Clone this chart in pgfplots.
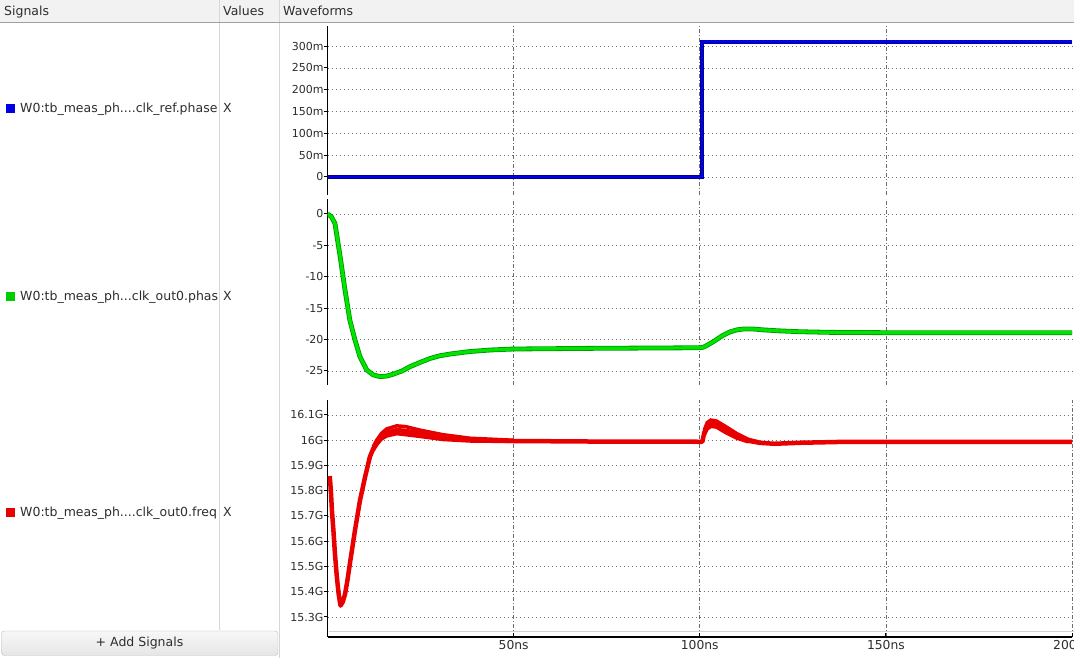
\documentclass[border=0pt]{standalone}
\usepackage{fontspec}
\setmainfont{DejaVu Sans}
\usepackage{pgfplots}
\pgfplotsset{compat=1.18}

\definecolor{wblue}{RGB}{0,0,225}
\definecolor{wblued}{RGB}{0,0,150}
\definecolor{wgreen}{RGB}{0,228,0}
\definecolor{wgreend}{RGB}{0,150,0}
\definecolor{wred}{RGB}{232,0,0}
\definecolor{gridc}{RGB}{110,110,110}
\definecolor{txt}{RGB}{45,45,45}
\definecolor{hdr}{RGB}{242,242,242}
\definecolor{hdrline}{RGB}{160,160,160}
\definecolor{sep}{RGB}{215,215,215}

\pgfplotstableread{
t v
0 0
100.6 0
100.6 310
200 310
}\bluedata

\pgfplotstableread{
t v
0 0
1 -0.4
2 -1.5
3.4 -6.8
4.7 -12.1
6.0 -16.9
7.4 -20.1
8.7 -22.7
10.5 -24.8
12.2 -25.6
14.1 -25.9
16 -25.8
17.7 -25.5
20 -25.0
22.2 -24.3
25 -23.6
27.6 -23.0
30 -22.6
32.9 -22.3
38.3 -21.9
44 -21.65
50 -21.5
60 -21.45
70 -21.4
85 -21.35
100 -21.3
101 -21.2
102 -20.9
104 -20.2
106 -19.4
108 -18.8
110 -18.45
112 -18.3
114 -18.3
117 -18.45
121 -18.6
127 -18.75
135 -18.85
150 -18.9
200 -18.9
}\greendata

\pgfplotstableread{
t v
0.6 15.858
0.9 15.80
1.2 15.72
1.6 15.64
2.0 15.55
2.5 15.46
3.0 15.39
3.5 15.345
4.1 15.36
4.7 15.39
5.3 15.44
6.0 15.51
7.4 15.645
8.7 15.76
10.1 15.855
11.4 15.935
12.3 15.967
13.2 15.99
14.5 16.015
15.9 16.03
18.6 16.04
21 16.037
24.9 16.027
31 16.012
38.3 16.002
50 15.997
70 15.995
100 15.994
100.7 15.994
101.2 16.03
102 16.055
103 16.065
104.5 16.062
107 16.04
110 16.015
113 15.998
116 15.99
120 15.986
127 15.99
140 15.994
200 15.994
}\reddata

\pgfplotstableread{
t v
12.3 15.975
13.2 16.0
14.5 16.027
15.9 16.045
18.6 16.057
21 16.054
24.9 16.04
31 16.022
38.3 16.008
50 16.0
}\redupA

\pgfplotstableread{
t v
12.3 15.96
13.2 15.982
14.5 16.005
15.9 16.017
18.6 16.026
21 16.022
24.9 16.015
31 16.003
38.3 15.997
50 15.995
}\redloA

\pgfplotstableread{
t v
101.2 16.04
102 16.07
103 16.08
104.5 16.076
107 16.054
110 16.026
113 16.004
116 15.993
}\redupB

\pgfplotstableread{
t v
101.2 16.02
102 16.045
103 16.055
104.5 16.052
107 16.03
110 16.008
113 15.994
}\redloB

\pgfplotsset{
  lane/.style={
    scale only axis, width=744.5bp, xmin=0, xmax=200, anchor=south west,
    axis lines=left, axis line style={-, black, line width=1.6bp},
    xmajorgrids, ymajorgrids,
    x grid style={gridc, line width=0.7bp, dash pattern=on 4bp off 2bp on 1bp off 2bp},
    y grid style={gridc, line width=0.7bp, dash pattern=on 1bp off 3bp},
    tick align=inside,
    major tick length=4bp,
    ytick style={black, line width=1bp, xshift=-4bp},
    xtick style={black, line width=1bp},
    yticklabel style={font=\fontsize{11bp}{13bp}\selectfont, text=txt, anchor=east, xshift=-0.5bp},
    xticklabel style={font=\fontsize{12.3bp}{14bp}\selectfont, text=txt, anchor=north},
  },
  upperlane/.style={
    lane,
    xtick={50,100,150}, xticklabels={},
    x axis line style={draw=none},
    xtick style={draw=none},
  }
}

\begin{document}
\begin{tikzpicture}[x=1bp,y=1bp]
\path[use as bounding box] (0,0) rectangle (1074,658);
\clip (0,0) rectangle (1074,658);
\fill[white] (0,0) rectangle (1074,658);

% header
\fill[hdr] (0,636) rectangle (1074,658);
\draw[hdrline, line width=1bp] (0,635.5) -- (1074,635.5);
\draw[sep, line width=1bp] (219.5,636) -- (219.5,658);
\draw[sep, line width=1bp] (279.5,636) -- (279.5,658);
\node[anchor=base west, text=txt, inner sep=0pt, font=\fontsize{12.5bp}{14bp}\selectfont] at (4,642) {Signals};
\node[anchor=base west, text=txt, inner sep=0pt, font=\fontsize{12.5bp}{14bp}\selectfont] at (223,642) {Values};
\node[anchor=base west, text=txt, inner sep=0pt, font=\fontsize{12.5bp}{14bp}\selectfont] at (283,642) {Waveforms};

% panel separators
\draw[sep, line width=1bp] (219.5,28) -- (219.5,635);
\draw[sep, line width=1bp] (279.5,0) -- (279.5,635);

% signal rows
\fill[wblue] (6,545) rectangle (15,554);
\fill[wgreen!90!black] (6,357) rectangle (15,366);
\fill[wred] (6,141) rectangle (15,150);
\begin{scope}
\clip (0,0) rectangle (219,635);
\node[anchor=base west, text=txt, inner sep=0pt, font=\fontsize{12.5bp}{14bp}\selectfont] at (20,545.5) {W0:tb\_meas\_ph....clk\_ref.phase};
\node[anchor=base west, text=txt, inner sep=0pt, font=\fontsize{12.5bp}{14bp}\selectfont] at (20,357.5) {W0:tb\_meas\_ph...clk\_out0.phas};
\node[anchor=base west, text=txt, inner sep=0pt, font=\fontsize{12.5bp}{14bp}\selectfont] at (20,141.5) {W0:tb\_meas\_ph....clk\_out0.freq};
\end{scope}
\node[anchor=base west, text=txt, inner sep=0pt, font=\fontsize{12.5bp}{14bp}\selectfont] at (223,545.5) {X};
\node[anchor=base west, text=txt, inner sep=0pt, font=\fontsize{12.5bp}{14bp}\selectfont] at (223,357.5) {X};
\node[anchor=base west, text=txt, inner sep=0pt, font=\fontsize{12.5bp}{14bp}\selectfont] at (223,141.5) {X};

% button
\draw[rounded corners=3bp, draw=gray!55, top color=gray!6, bottom color=gray!20] (1.5,2.5) rectangle (278,27);
\node[text=txt, font=\fontsize{12.5bp}{14bp}\selectfont] at (139.5,14.8) {+ Add Signals};

% top lane
\begin{axis}[upperlane, at={(327.5bp,463bp)}, height=169bp,
  ymin=-41.3, ymax=346.3,
  ytick={0,50,100,150,200,250,300},
  yticklabels={0,50m,100m,150m,200m,250m,300m}]
\addplot[wblued, line width=4.2bp, line join=miter] table[x=t,y=v]{\bluedata};
\addplot[wblue, line width=2.8bp, line join=miter] table[x=t,y=v]{\bluedata};
\end{axis}

% middle lane
\begin{axis}[upperlane, at={(327.5bp,273bp)}, height=186bp,
  ymin=-27.23, ymax=2.39,
  ytick={-25,-20,-15,-10,-5,0},
  yticklabels={-25,-20,-15,-10,-5,0}]
\addplot[wgreend, line width=4.8bp] table[x=t,y=v]{\greendata};
\addplot[wgreen, line width=3.2bp] table[x=t,y=v]{\greendata};
\end{axis}

% bottom lane
\begin{axis}[lane, at={(327.5bp,21bp)}, height=237bp,
  ymin=15.2208, ymax=16.1594,
  xtick={0,50,100,150,200},
  xticklabels={,50ns,100ns,150ns,200ns},
  ytick={15.3,15.4,15.5,15.6,15.7,15.8,15.9,16,16.1},
  yticklabels={15.3G,15.4G,15.5G,15.6G,15.7G,15.8G,15.9G,16G,16.1G}]
\addplot[wred, line width=4.5bp, line join=round] table[x=t,y=v]{\reddata};
\addplot[wred, line width=3.5bp] table[x=t,y=v]{\redupA};
\addplot[wred, line width=3.5bp] table[x=t,y=v]{\redloA};
\addplot[wred, line width=3.5bp] table[x=t,y=v]{\redupB};
\addplot[wred, line width=3.5bp] table[x=t,y=v]{\redloB};
\end{axis}
\draw[gray!35, line width=1bp] (329,26.5) -- (1074,26.5);
\end{tikzpicture}
\end{document}
